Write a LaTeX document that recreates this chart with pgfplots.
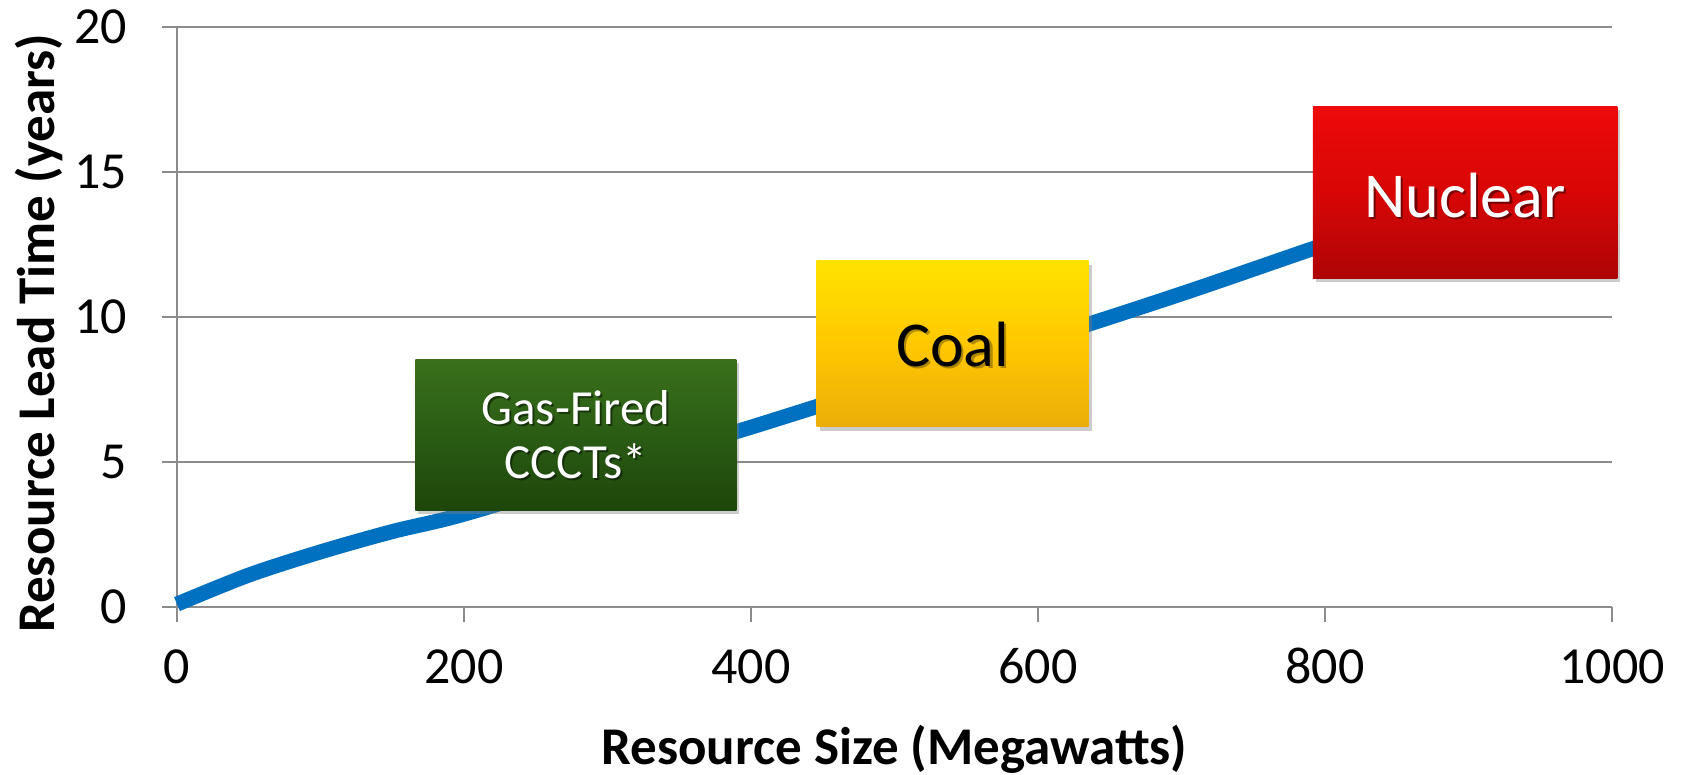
\documentclass[border=0pt]{standalone}
\usepackage{pgfplots}
\pgfplotsset{compat=1.18}
\usepackage{fontspec}
\setmainfont{Carlito}
\usetikzlibrary{shadows}
\definecolor{lineblue}{HTML}{0070C0}
\definecolor{gridgray}{HTML}{8C8C8C}
\definecolor{gtop}{HTML}{3A701B}
\definecolor{gmid}{HTML}{2A5C14}
\definecolor{gbot}{HTML}{1E450B}
\definecolor{ctop}{HTML}{FFE300}
\definecolor{cmid}{HTML}{FFC800}
\definecolor{cbot}{HTML}{EBAD0A}
\definecolor{ntop}{HTML}{EE0A0A}
\definecolor{nmid}{HTML}{D80606}
\definecolor{nbot}{HTML}{AE0505}
\begin{document}
\begin{tikzpicture}
\begin{axis}[
  at={(0,0)}, anchor=south west,
  scale only axis,
  width=717.5pt, height=290pt,
  xmin=0, xmax=1000, ymin=0, ymax=20,
  xtick={0,200,400,600,800,1000},
  ytick={0,5,10,15,20},
  axis x line=bottom, axis y line=left,
  axis line style={gridgray, line width=1pt, -},
  tick align=outside,
  major tick length=7.5pt,
  tick style={gridgray, line width=1pt},
  ymajorgrids,
  grid style={gridgray, line width=1pt},
  /pgf/number format/assume math mode=true,
  /pgf/number format/1000 sep={},
  ticklabel style={font=\fontsize{26}{30}\selectfont},
  xticklabel style={anchor=base, yshift=-31pt},
  yticklabel style={anchor=east, xshift=-14pt},
  every axis x label/.style={at={(axis description cs:0.5,-0.271)}, anchor=base, font=\bfseries\fontsize{26.5}{31}\selectfont},
  every axis y label/.style={at={(axis description cs:-0.0962,0.472)}, rotate=90, anchor=center, font=\bfseries\fontsize{26.5}{31}\selectfont},
  xlabel={Resource Size (Megawatts)},
  ylabel={Resource Lead Time (years)},
  clip=false,
]
\addplot[lineblue, line width=7.5pt, smooth, line cap=butt] coordinates {
 (0,0.1) (50,1.1) (100,1.9) (150,2.6) (200,3.2) (300,4.7) (400,6.2)
 (500,7.75) (600,9.2) (700,10.8) (800,12.5) (850,13.3)
};
% boxes
\path[top color=gtop, bottom color=gbot, middle color=gmid,
  drop shadow={shadow xshift=1.5pt, shadow yshift=-2pt, opacity=0.4}]
  (axis cs:166.2,3.34) rectangle (axis cs:389.8,8.55);
\path[top color=ctop, bottom color=cbot, middle color=cmid,
  drop shadow={shadow xshift=1.5pt, shadow yshift=-2pt, opacity=0.4}]
  (axis cs:445.8,6.22) rectangle (axis cs:635.2,11.94);
\path[top color=ntop, bottom color=nbot, middle color=nmid,
  drop shadow={shadow xshift=1.5pt, shadow yshift=-2pt, opacity=0.4}]
  (axis cs:791.5,11.34) rectangle (axis cs:1003.8,17.26);
% labels with soft shadow
\node[align=center, font=\fontsize{24.5}{27}\selectfont, text=black, opacity=0.45] at ([xshift=1pt,yshift=-1pt]axis cs:278,5.95) {Gas-Fired\\CCCTs*};
\node[align=center, font=\fontsize{24.5}{27}\selectfont, text=white] at (axis cs:278,5.95) {Gas-Fired\\CCCTs*};
\node[font=\fontsize{32}{38}\selectfont, text=black, opacity=0.3] at ([xshift=1.2pt,yshift=-1.2pt]axis cs:540.5,9.05) {Coal};
\node[font=\fontsize{32}{38}\selectfont, text=black] at (axis cs:540.5,9.05) {Coal};
\node[font=\fontsize{32}{38}\selectfont, text=black, opacity=0.45] at ([xshift=1.2pt,yshift=-1.2pt]axis cs:897.6,14.2) {Nuclear};
\node[font=\fontsize{32}{38}\selectfont, text=white] at (axis cs:897.6,14.2) {Nuclear};
\end{axis}
\pgfresetboundingbox
\path[use as bounding box] (-88.5pt,-84pt) rectangle (752.5pt,303.5pt);
\end{tikzpicture}
\end{document}
